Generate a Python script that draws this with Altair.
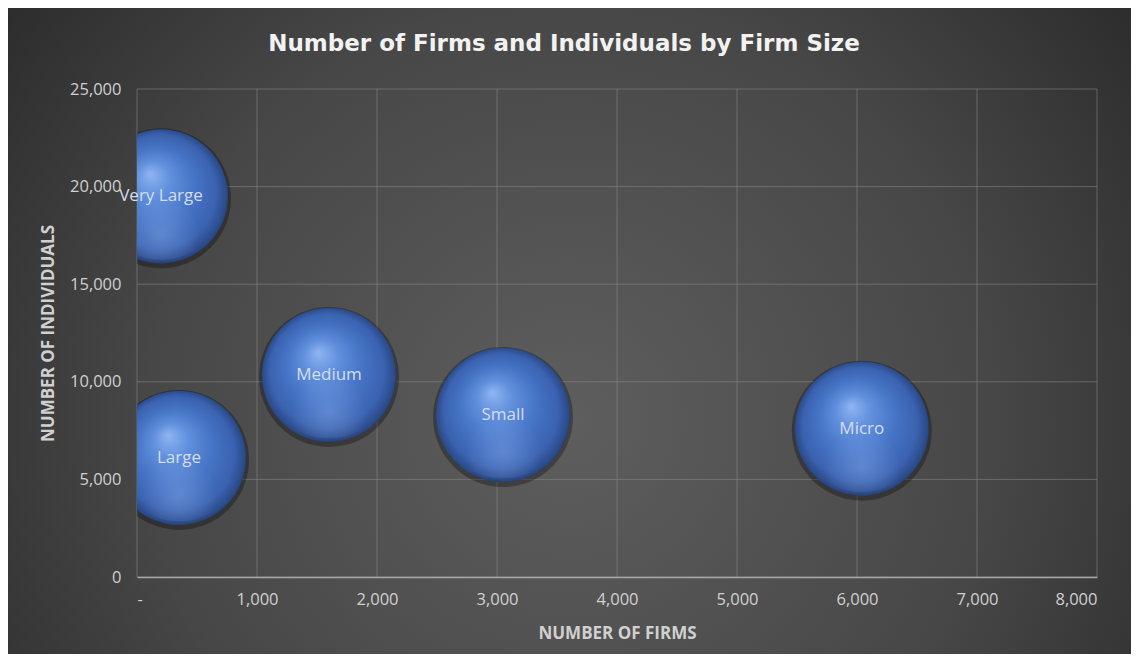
import altair as alt
import pandas as pd

# Data
sizes = ["Very Large", "Large", "Medium", "Small", "Micro"]
num_firms = [200, 350, 1600, 3050, 6040]
num_individuals = [19500, 6100, 10350, 8300, 7600]

x_ticks = [0, 1000, 2000, 3000, 4000, 5000, 6000, 7000, 8000]
y_ticks = [0, 5000, 10000, 15000, 20000, 25000]

df = pd.DataFrame({"size": sizes, "firms": num_firms, "individuals": num_individuals})

W, H = 960, 488
PAD_L, PAD_T, PAD_R, PAD_B = 129, 81, 34, 77

x_scale = alt.Scale(domain=[0, 8000], nice=False)
y_scale = alt.Scale(domain=[0, 25000], nice=False)

x_axis = alt.Axis(values=x_ticks, grid=False, zindex=1,
                  labelExpr="datum.value == 0 ? '-' : format(datum.value, ',')",
                  title="NUMBER OF FIRMS", titleX=W / 2, titleY=56,
                  titleBaseline="middle", labelPadding=14,
                  domain=True, domainColor="#a6a6a6", domainWidth=1.5)
y_axis = alt.Axis(values=y_ticks, grid=False, zindex=1,
                  labelExpr="format(datum.value, ',')",
                  title="NUMBER OF INDIVIDUALS", titleX=-89, titleY=H / 2,
                  titleAngle=270, titleAlign="center", titleBaseline="middle",
                  labelPadding=16, domain=False)

bg_grad = alt.RadialGradient(
    gradient="radial", x1=0.5, y1=0.58, r1=0, x2=0.5, y2=0.58, r2=0.75,
    stops=[alt.GradientStop(offset=0, color="#5e5e5e"),
           alt.GradientStop(offset=0.5, color="#474747"),
           alt.GradientStop(offset=1, color="#1f1f1f")])

background = alt.Chart(pd.DataFrame({"a": [0]})).mark_rect(fill=bg_grad, clip=False).encode(
    x=alt.value(-PAD_L), x2=alt.value(W + PAD_R),
    y=alt.value(-PAD_T), y2=alt.value(H + PAD_B))

vgrid = alt.Chart(pd.DataFrame({"firms": x_ticks})).mark_rule(
    color="#8a8a8a", strokeWidth=1, opacity=0.55).encode(
    x=alt.X("firms:Q", scale=x_scale, axis=x_axis))
hgrid = alt.Chart(pd.DataFrame({"individuals": y_ticks})).mark_rule(
    color="#8a8a8a", strokeWidth=1, opacity=0.55).encode(
    y=alt.Y("individuals:Q", scale=y_scale, axis=y_axis))

base = alt.Chart(df).encode(x=alt.X("firms:Q", scale=x_scale, axis=x_axis),
                            y=alt.Y("individuals:Q", scale=y_scale, axis=y_axis))

R = 67
sym = (2 * R) ** 2

shadow = base.mark_circle(clip=True, color="#000000", opacity=0.3, yOffset=2).encode(
    size=alt.value((2 * (R + 3)) ** 2))

sphere_grad = alt.RadialGradient(
    gradient="radial", x1=0.42, y1=0.33, r1=0, x2=0.5, y2=0.5, r2=0.52,
    stops=[alt.GradientStop(offset=0, color="#8fb5f2"),
           alt.GradientStop(offset=0.25, color="#6190dd"),
           alt.GradientStop(offset=0.55, color="#4674c6"),
           alt.GradientStop(offset=0.82, color="#3a62b0"),
           alt.GradientStop(offset=0.95, color="#2b4a88"),
           alt.GradientStop(offset=1, color="#1d3260")])

sphere = base.mark_circle(clip=True, fill=sphere_grad, opacity=1).encode(size=alt.value(sym))

reflect_grad = alt.RadialGradient(
    gradient="radial", x1=0.5, y1=0.8, r1=0, x2=0.5, y2=0.8, r2=0.3,
    stops=[alt.GradientStop(offset=0, color="rgba(140,175,235,0.4)"),
           alt.GradientStop(offset=1, color="rgba(140,175,235,0)")])
reflect = base.mark_circle(clip=True, fill=reflect_grad, opacity=1).encode(
    size=alt.value(sym * 0.9))

labels = base.mark_text(font="Open Sans", fontSize=17, color="#d5deec", clip=False).encode(
    text="size:N")

chart = alt.layer(background, vgrid, hgrid, shadow, sphere, reflect, labels).properties(
    width=W, height=H, padding=0,
    title=alt.TitleParams("Number of Firms and Individuals by Firm Size",
                          font="DejaVu Sans", fontSize=23, fontWeight="bold",
                          color="#f2f2f2", offset=-48, dx=-53, anchor="middle"),
    background="#1f1f1f",
).configure_axis(
    labelFont="Open Sans", labelFontSize=16.5, labelColor="#d0d0d0",
    titleFont="Open Sans", titleFontSize=17, titleFontWeight="bold", titleColor="#d0d0d0",
    ticks=False,
).configure_view(stroke=None)

chart.save("out.html", embed_options={"renderer": "svg", "actions": False})
